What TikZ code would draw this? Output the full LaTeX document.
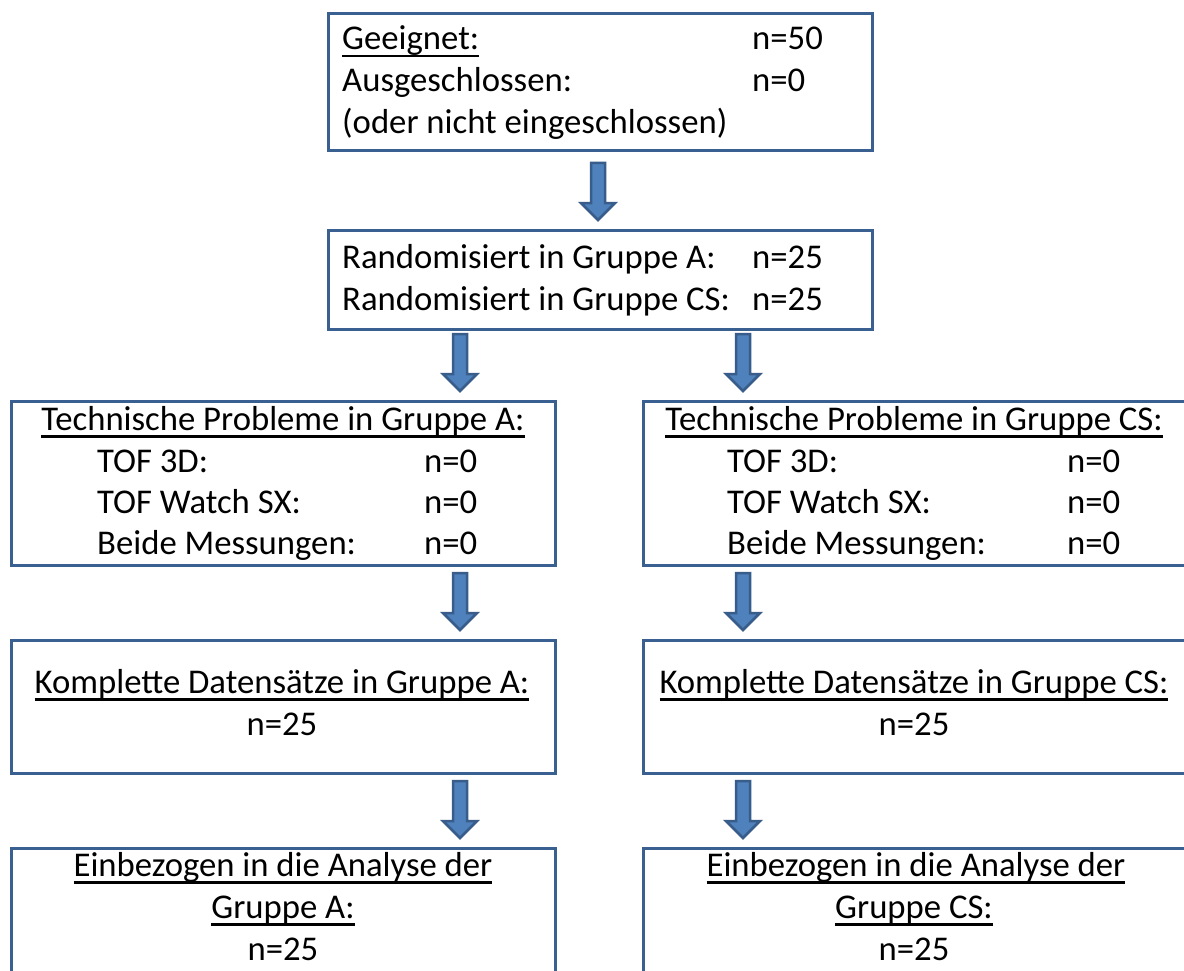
\documentclass[tikz,border=0pt]{standalone}
\usepackage{fontspec}
\setmainfont{Carlito}
\usetikzlibrary{calc}
\definecolor{boxblue}{RGB}{58,95,145}
\definecolor{arrowfill}{RGB}{79,129,189}
\definecolor{arrowline}{RGB}{56,93,138}
\newcommand\myul[1]{\setbox0\hbox{#1}\rlap{\rule[-7.5pt]{\wd0}{2.4pt}}\box0}
\newcommand\barrow[1]{\draw[barrowstyle] let \p1=(#1) in
  (\x1-7pt,\y1+66pt) -- (\x1+7pt,\y1+66pt) -- (\x1+7pt,\y1+26pt) -- (\x1+17pt,\y1+26pt)
  -- (\x1,\y1+9pt) -- (\x1-17pt,\y1+26pt) -- (\x1-7pt,\y1+26pt) -- cycle;}
\tikzset{
  box/.style={draw=boxblue, line width=2.8pt, rectangle, inner sep=0pt, anchor=north west, minimum width=544pt},
  txt/.style={inner sep=0pt, anchor=base west, font=\fontsize{34.7}{42}\selectfont},
  ctxt/.style={inner sep=0pt, anchor=base, font=\fontsize{34.7}{42}\selectfont},
  barrowstyle/.style={fill=arrowfill, draw=arrowline, line width=2.5pt, line join=miter}
}
\begin{document}
\begin{tikzpicture}[x=1pt,y=-1pt]
\clip (0,0) rectangle (1184,971);
\fill[white] (0,0) rectangle (1184,971);
% boxes
\node[box, minimum height=137pt] (b1) at (327,12) {};
\node[box, minimum height=99pt] (b2) at (327,229) {};
\node[box, minimum height=164pt] (b3l) at (10,400) {};
\node[box, minimum height=164pt] (b3r) at (642,400) {};
\node[box, minimum height=133pt] (b4l) at (10,639) {};
\node[box, minimum height=133pt] (b4r) at (642,639) {};
\node[box, minimum height=200pt] (b5l) at (10,847) {};
\node[box, minimum height=200pt] (b5r) at (642,847) {};
% arrow x positions
\coordinate (xl) at (460,0);
\coordinate (xr) at (743,0);
\coordinate (xm) at (598,0);
% arrows
\barrow{b2.north -| xm}
\barrow{b3l.north -| xl}
\barrow{b3r.north -| xr}
\barrow{b4l.north -| xl}
\barrow{b4r.north -| xr}
\barrow{b5l.north -| xl}
\barrow{b5r.north -| xr}
% box 1 text
\node[txt] (t1a) at (342,50) {\myul{Geeignet:}};
\node[txt] (t1b) at (752,50) {n=50};
\node[txt] (t1c) at (342,92) {Ausgeschlossen:};
\node[txt] (t1d) at (752,92) {n=0};
\node[txt] (t1e) at (342,134) {(oder nicht eingeschlossen)};
% box 2 text
\node[txt] (t2a) at (342,268) {Randomisiert in Gruppe A:};
\node[txt] (t2b) at (752,268) {n=25};
\node[txt] (t2c) at (342,310) {Randomisiert in Gruppe CS:};
\node[txt] (t2d) at (752,310) {n=25};
% box 3 left
\node[ctxt] (t3a) at (283,430) {\myul{Technische Probleme in Gruppe A:}};
\node[txt] (t3b) at (97,472) {TOF 3D:};
\node[txt] (t3c) at (424,472) {n=0};
\node[txt] (t3d) at (97,513) {TOF Watch SX:};
\node[txt] (t3e) at (424,513) {n=0};
\node[txt] (t3f) at (97,554) {Beide Messungen:};
\node[txt] (t3g) at (424,554) {n=0};
% box 3 right
\node[ctxt] (t3h) at (914,430) {\myul{Technische Probleme in Gruppe CS:}};
\node[txt] (t3i) at (727,472) {TOF 3D:};
\node[txt] (t3j) at (1067,472) {n=0};
\node[txt] (t3k) at (727,513) {TOF Watch SX:};
\node[txt] (t3l) at (1067,513) {n=0};
\node[txt] (t3m) at (727,554) {Beide Messungen:};
\node[txt] (t3n) at (1067,554) {n=0};
% box 4
\node[ctxt] (t4a) at (282,693) {\myul{Komplette Datensätze in Gruppe A:}};
\node[ctxt] (t4b) at (282,735) {n=25};
\node[ctxt] (t4c) at (914,693) {\myul{Komplette Datensätze in Gruppe CS:}};
\node[ctxt] (t4d) at (914,735) {n=25};
% box 5
\node[ctxt] (t5a) at (283,876) {\myul{Einbezogen in die Analyse der}};
\node[ctxt] (t5b) at (283,918) {\myul{Gruppe A:}};
\node[ctxt] (t5c) at (283,960) {n=25};
\node[ctxt] (t5d) at (916,876) {\myul{Einbezogen in die Analyse der}};
\node[ctxt] (t5e) at (914,918) {\myul{Gruppe CS:}};
\node[ctxt] (t5f) at (914,960) {n=25};
\end{tikzpicture}
\end{document}
